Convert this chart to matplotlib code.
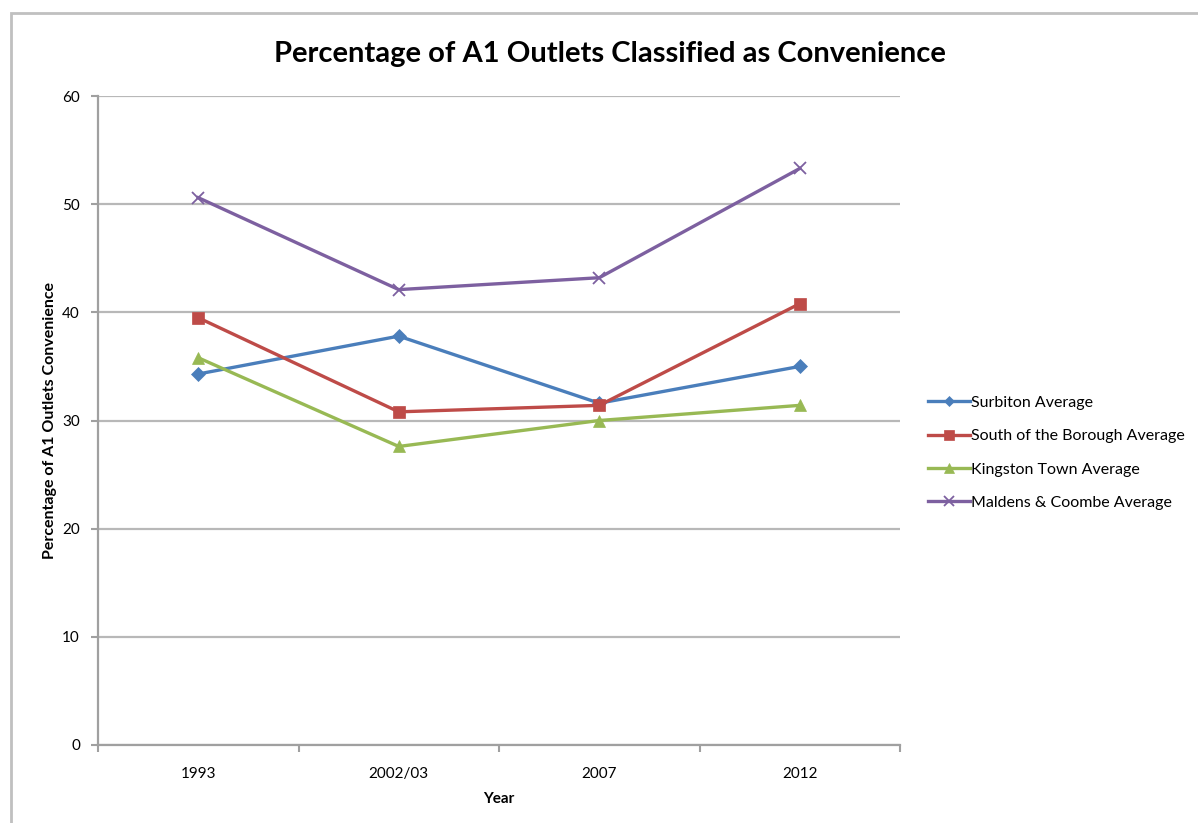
import numpy as np
import matplotlib.pyplot as plt
from matplotlib.patches import Rectangle

# data
years = ["1993", "2002/03", "2007", "2012"]
surbiton = [34.3, 37.8, 31.6, 35.0]
south = [39.5, 30.8, 31.4, 40.8]
kingston = [35.8, 27.6, 30.0, 31.4]
maldens = [50.6, 42.1, 43.2, 53.3]

series = [
    ("Surbiton Average", surbiton, "#4a7ebb", "D", 7),
    ("South of the Borough Average", south, "#be4b48", "s", 9),
    ("Kingston Town Average", kingston, "#98b954", "^", 9),
    ("Maldens & Coombe Average", maldens, "#7d60a0", "x", 9),
]

plt.rcParams['font.family'] = ['Lato', 'DejaVu Sans']

fig = plt.figure(figsize=(11.98, 8.23), dpi=100)
fig.patches.append(Rectangle((11 / 1198, -0.1), 1.2, 1 - 13 / 823 + 0.1,
                             transform=fig.transFigure, fill=False,
                             edgecolor="#c0c0c0", linewidth=2))

ax = fig.add_axes([98 / 1198, 1 - 745 / 823, (900 - 98) / 1198, (745 - 96) / 823])

x = np.arange(len(years))
for name, vals, col, mk, ms in series:
    ax.plot(x, vals, color=col, linewidth=2.4, marker=mk, markersize=ms,
            markeredgewidth=1.3 if mk == "x" else 0.5, label=name)

ax.set_xlim(-0.5, len(years) - 0.5)
ax.set_ylim(0, 60)
ax.set_yticks(np.arange(0, 61, 10))
ax.yaxis.grid(True, color="#b8b8b8", linewidth=1.6)
ax.set_axisbelow(True)

ax.set_xticks(x)
ax.set_xticklabels(years, fontsize=11)
ax.set_xticks(np.arange(-0.5, len(years), 1), minor=True)
ax.tick_params(axis="x", which="major", length=0, pad=16)
ax.tick_params(axis="x", which="minor", length=5, color="#a0a0a0", width=1.5)
ax.tick_params(axis="y", length=5, color="#a0a0a0", width=1.5, labelsize=11, pad=8)

for s in ["top", "right"]:
    ax.spines[s].set_visible(False)
for s in ["left", "bottom"]:
    ax.spines[s].set_color("#a0a0a0")
    ax.spines[s].set_linewidth(1.6)

ax.set_xlabel("Year", fontsize=11, fontweight="bold", labelpad=8)
ax.set_ylabel("Percentage of A1 Outlets Convenience", fontsize=11.5, fontweight="bold", labelpad=4)

fig.text(610 / 1198, 1 - 54 / 823, "Percentage of A1 Outlets Classified as Convenience",
         ha="center", va="center", fontsize=21, fontweight="bold")

ax.legend(loc="center left", bbox_to_anchor=(1.035, 0.45), frameon=False,
          borderaxespad=0, borderpad=0,
          fontsize=11.5, handlelength=2.6, handletextpad=0.1, labelspacing=1.2,
          markerscale=0.8)

fig.savefig("out.png", dpi=100)
